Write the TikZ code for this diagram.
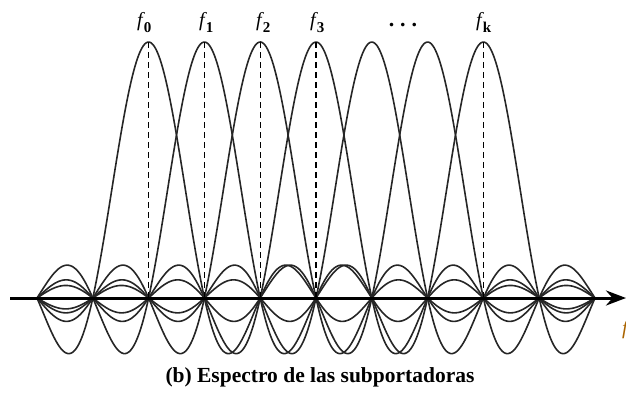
\documentclass[tikz,border=0pt]{standalone}
\usepackage{fontspec}
\setmainfont{Liberation Serif}
\usetikzlibrary{arrows.meta}
\definecolor{cutlabel}{RGB}{170,100,0}
\begin{document}
\begin{tikzpicture}[x=1pt,y=-1pt,
  curve/.style={line width=1.6pt, draw=black!85, line join=round},
  dashline/.style={line width=1.1pt, dash pattern=on 6pt off 4pt},
  axisline/.style={line width=3pt, -{Stealth[length=20pt,width=15pt]}},
  flabel/.style={anchor=base west, inner sep=0pt, font=\fontsize{20}{20}\selectfont\itshape},
  subfont/.style={}]
\useasboundingbox (0,0) rectangle (626,392);
% sinc subcarriers
\foreach \k in {2,...,8}{
  \draw[curve] plot[smooth, domain=0:10, samples=400, variable=\t]
    ({37+55.8*\t}, {298-256*sin(180*(\t-\k))/(pi*(\t-\k))});
}
% peak and base coordinates
\foreach \k/\n in {2/0,3/1,4/2,5/3,6/4,7/5,8/6}{
  \coordinate (p\n) at ({37+55.8*\k},42);
  \coordinate (b\n) at ({37+55.8*\k},298);
}
\foreach \n in {0,1,2,3,6}{
  \draw[dashline] (p\n) -- (b\n);
}
% axis
\coordinate (a0) at (10,298);
\coordinate (a1) at (626,298);
\draw[axisline] (a0) -- (a1);
% labels
\newcommand\fsub[1]{f\hspace{1pt}\raisebox{-6pt}{\upshape\bfseries\fontsize{15}{15}\selectfont #1}}
\node[flabel] (l0) at (137,26) {\fsub{0}};
\node[flabel] (l1) at (199,26) {\fsub{1}};
\node[flabel] (l2) at (256,26) {\fsub{2}};
\node[flabel] (l3) at (310,26) {\fsub{3}};
\node[font=\fontsize{22}{22}\selectfont\bfseries, inner sep=0pt, anchor=base] (dots) at (403,26) {.\hspace{6pt}.\hspace{6pt}.};
\node[flabel] (lk) at (476,26) {\fsub{k}};
\node[flabel, text=cutlabel] (lf) at (622,334) {f};
% caption
\node[font=\fontsize{21.5}{21.5}\selectfont\bfseries, inner sep=0pt] (cap) at (320,377) {(b) Espectro de las subportadoras};
\end{tikzpicture}
\end{document}
